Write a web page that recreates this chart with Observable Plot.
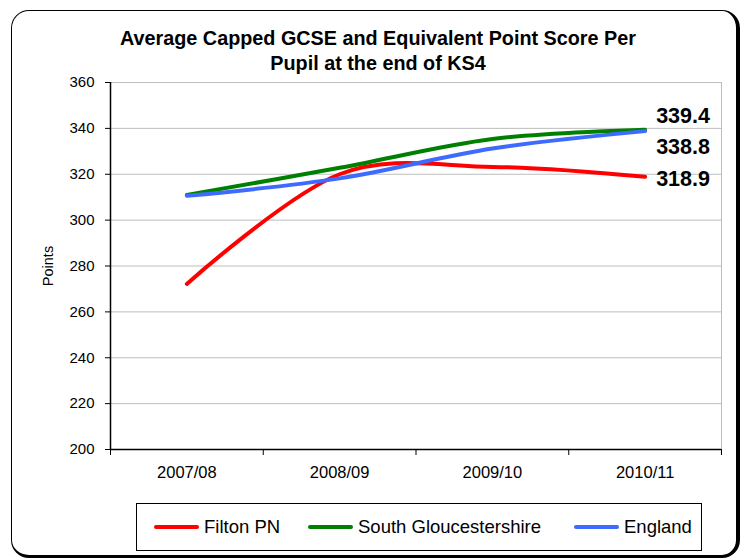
<!DOCTYPE html>
<html>
<head>
<meta charset="utf-8">
<script src="https://cdn.jsdelivr.net/npm/d3@7"></script>
<script src="https://cdn.jsdelivr.net/npm/@observablehq/plot@0.6"></script>
<style>
  html, body { margin: 0; padding: 0; background: #fff; }
  body { font-family: "Liberation Sans", Arial, sans-serif; }
  #wrap { position: relative; width: 745px; height: 560px; overflow: hidden; }
  #frame { position: absolute; left: 11px; top: 10px; width: 724px; height: 544px;
           border: 1.5px solid #000; border-right-width: 4px; border-bottom-width: 3px;
           border-radius: 18px; }
  #title { position: absolute; left: 0; top: 26px; width: 756px; text-align: center;
           font-weight: bold; font-size: 19.8px; line-height: 24.5px; color: #000; }
  #chart { position: absolute; left: 0; top: 0; }
  #legend { position: absolute; left: 136px; top: 503px; width: 564px; height: 46px;
            border: 1px solid #000; background: #fff; }
  .item { position: absolute; top: 0; height: 46px; display: flex; align-items: center;
          font-size: 18.5px; color: #000; }
  .swatch { display: inline-block; width: 45px; height: 4.5px; border-radius: 3px; margin-right: 5px; }
</style>
</head>
<body>
<div id="wrap">
  <div id="frame"></div>
  <div id="title">Average Capped GCSE and Equivalent Point Score Per<br>Pupil at the end of KS4</div>
  <div id="chart"></div>
  <div id="legend"></div>
</div>
<script>
const years = ["2007/08", "2008/09", "2009/10", "2010/11"];
const seriesNames = ["Filton PN", "South Gloucestershire", "England"];
const filton = [272.2, 320.0, 323.2, 318.9];
const southGlos = [311.0, 322.8, 335.4, 339.4];
const england = [310.6, 318.2, 331.2, 338.8];
const colors = ["#ff0000", "#008000", "#3d6bff"];
const yTicks = [200, 220, 240, 260, 280, 300, 320, 340, 360];

const seriesValues = [filton, southGlos, england];
const rows = seriesNames.flatMap((name, s) =>
  years.map((yr, i) => ({series: name, idx: i, value: seriesValues[s][i]})));
const idx = years.map((_, i) => i);
const bounds = [-0.5, ...idx.map(i => i + 0.5)];
const lastPoints = seriesNames.map((name, s) => ({series: name, idx: years.length - 1, value: seriesValues[s][years.length - 1]}));

const font = "Liberation Sans, Arial, sans-serif";
const labelDy = [2, -14, 16];

const chart = Plot.plot({
  width: 745,
  height: 560,
  marginLeft: 110,
  marginRight: 24,
  marginTop: 82,
  marginBottom: 111,
  style: {fontFamily: font, fontSize: "15px", color: "#000", background: "transparent", overflow: "visible"},
  x: {type: "linear", domain: [-0.5, years.length - 0.5]},
  y: {domain: [200, 360]},
  color: {domain: seriesNames, range: colors},
  marks: [
    Plot.gridY(yTicks, {stroke: "#bdbdbd", strokeOpacity: 1, strokeWidth: 1}),
    Plot.frame({stroke: "#bdbdbd", strokeWidth: 1}),
    Plot.axisY({ticks: yTicks, tickSize: 5, tickPadding: 11, label: null, fontSize: 15, stroke: "#000"}),
    Plot.ruleX([-0.5], {stroke: "#000", strokeWidth: 1.5}),
    Plot.ruleY([200], {stroke: "#000", strokeWidth: 1.5}),
    Plot.axisX({ticks: bounds, tickSize: 6, tickFormat: () => "", label: null}),
    Plot.axisX({ticks: idx, tickSize: 0, tickPadding: 17, tickFormat: i => years[i], label: null, fontSize: 16.5}),
    Plot.text(["Points"], {frameAnchor: "left", textAnchor: "middle", rotate: -90, dx: -62, fontSize: 14.5}),
    Plot.line(rows, {x: "idx", y: "value", z: "series", stroke: "series", strokeWidth: 4,
                     curve: "cardinal", strokeLinecap: "round", strokeLinejoin: "round"}),
    ...lastPoints.map((p, s) => Plot.text([p], {x: "idx", y: "value", text: d => d.value.toFixed(1),
        textAnchor: "start", dx: 11, dy: labelDy[s], fontSize: 21.5, fontWeight: "bold"}))
  ]
});
document.getElementById("chart").appendChild(chart);

const legend = document.getElementById("legend");
const itemLeft = [17, 171, 437];
seriesNames.forEach((name, s) => {
  const it = document.createElement("div");
  it.className = "item";
  it.style.left = itemLeft[s] + "px";
  const sw = document.createElement("span");
  sw.className = "swatch";
  sw.style.background = colors[s];
  it.appendChild(sw);
  it.appendChild(document.createTextNode(name));
  legend.appendChild(it);
});
</script>
</body>
</html>
